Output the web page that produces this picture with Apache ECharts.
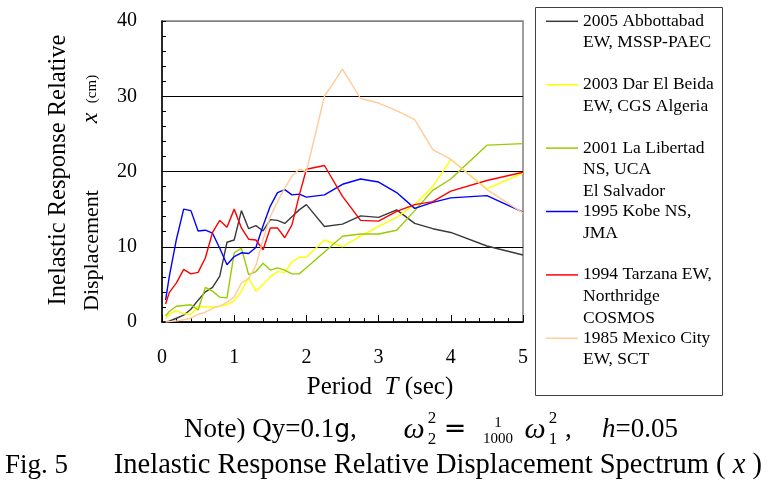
<!DOCTYPE html>
<html><head><meta charset="utf-8">
<script src="https://cdn.jsdelivr.net/npm/echarts@6/dist/echarts.min.js"></script>
<style>html,body{margin:0;padding:0;background:#fff}#c{width:774px;height:484px}</style>
</head><body><div id="c"></div>
<script>
// Period T (sec)
const periods = [0.05,0.1,0.2,0.3,0.4,0.5,0.6,0.7,0.8,0.9,1.0,1.1,1.2,1.3,1.4,1.5,1.6,1.7,1.8,1.9,2.0,2.25,2.5,2.75,3.0,3.25,3.5,3.75,4.0,4.5,5.0];
// Inelastic response relative displacement x (cm)
const abbottabad = [0,0.1,0.5,0.9,1.7,2.9,4.0,4.6,6.1,10.6,10.9,14.8,12.4,12.8,12.1,13.6,13.5,13.1,14.0,14.9,15.6,12.7,13.0,14.1,13.9,14.9,13.1,12.4,11.9,10.1,8.9];
const darElBeida = [0.5,1.0,1.5,1.1,1.0,2.1,2.0,2.0,2.1,2.3,2.8,4.1,5.9,4.1,5.0,6.0,6.7,6.6,8.0,8.6,8.6,10.9,10.0,11.4,12.7,13.9,15.6,18.0,21.6,17.7,19.8];
const laLibertad = [0.8,1.4,2.1,2.2,2.3,1.6,4.6,4.1,3.3,3.2,9.2,9.8,6.3,6.7,7.8,6.9,7.2,6.9,6.4,6.4,7.2,9.3,11.4,11.7,11.7,12.2,14.8,17.5,19.0,23.5,23.7];
const kobe = [2.9,6.0,11.0,15.0,14.8,12.1,12.2,11.8,9.8,7.6,8.7,9.2,9.1,9.9,12.8,15.4,17.2,17.6,16.9,17.0,16.6,16.9,18.3,19.0,18.6,17.2,15.1,15.9,16.5,16.8,14.6];
const tarzana = [2.4,3.9,5.2,7.0,6.4,6.6,8.5,11.9,13.5,12.6,15.0,12.5,11.0,10.9,9.6,12.5,12.5,11.2,12.9,16.8,20.3,20.8,16.7,13.5,13.4,14.7,15.6,16.0,17.4,18.8,19.9];
const mexicoCity = [0,0.05,0.15,0.3,0.5,1.0,1.3,1.8,2.1,2.6,3.3,5.2,5.8,7.5,11.0,14.0,16.0,17.8,19.4,20.3,20.0,30.0,33.6,29.7,29.1,28.1,26.9,22.9,21.6,17.6,14.5];

const legendLines = [
  ['2005 Abbottabad','EW, MSSP-PAEC'],
  ['2003 Dar El Beida','EW, CGS Algeria'],
  ['2001 La Libertad','NS, UCA','El Salvador'],
  ['1995 Kobe NS,','JMA'],
  ['1994 Tarzana EW,','Northridge','COSMOS'],
  ['1985 Mexico City','EW, SCT']
];
const seriesValues = [abbottabad, darElBeida, laLibertad, kobe, tarzana, mexicoCity];
const seriesColors = ['#3a3a3a','#ffff00','#99cc00','#0000ff','#ff0000','#ffcc99'];
const xTicks = [0,1,2,3,4,5];
const yTicks = [0,10,20,30,40];

const SERIF = '"Liberation Serif","Times New Roman",serif';
const names = legendLines.map(l => l.join(' '));

const series = names.map((n,i)=>({
  type:'line', name:n, symbol:'none', silent:true,
  data: periods.map((t,j)=>[t, seriesValues[i][j]]),
  lineStyle:{color:seriesColors[i], width:1.4},
  itemStyle:{color:seriesColors[i]}
}));

// legend layout
const legTop0 = 21.3, legPitch = 63.4, legLine = 21.6, legTextX = 583;
const graphics = [];
graphics.push({type:'rect', shape:{x:535.5,y:7.5,width:187,height:388}, style:{fill:'none',stroke:'#404040',lineWidth:1}});
legendLines.forEach((lines,i)=>{
  lines.slice(1).forEach((ln,k)=>{
    graphics.push({type:'text', x:legTextX, y:legTop0+i*legPitch+(k+1)*legLine,
      style:{text:ln, font:'17.5px '+SERIF, fill:'#000', align:'left', verticalAlign:'middle'}});
  });
});
// y axis title
graphics.push({type:'text', x:59, y:170, rotation:Math.PI/2,
  style:{text:'Inelastic Response Relative', font:'24.5px '+SERIF, fill:'#000', align:'center', verticalAlign:'middle'}});
graphics.push({type:'text', x:92, y:311, rotation:Math.PI/2,
  style:{text:'Displacement', font:'22px '+SERIF, fill:'#000', align:'left', verticalAlign:'middle'}});
graphics.push({type:'text', x:91, y:118, rotation:Math.PI/2,
  style:{text:'x', font:'italic 24px '+SERIF, fill:'#000', align:'center', verticalAlign:'middle'}});
graphics.push({type:'text', x:92, y:89, rotation:Math.PI/2,
  style:{text:'(cm)', font:'15px '+SERIF, fill:'#000', align:'center', verticalAlign:'middle'}});
// x axis title
graphics.push({type:'text', x:380, y:387,
  style:{text:'{n|Period  }{i|T}{n| (sec)}', align:'center', verticalAlign:'middle',
    rich:{n:{font:'25px '+SERIF, fill:'#000'}, i:{font:'italic 25px '+SERIF, fill:'#000'}}}});
// note line
const noteY = 430;
graphics.push({type:'text', x:184, y:noteY,
  style:{text:'{n|Note) Qy=0.1}{g|g}{n|,}', align:'left', verticalAlign:'middle',
    rich:{n:{font:'27px '+SERIF, fill:'#000'}, g:{font:'25px "DejaVu Sans",sans-serif', fill:'#000'}}}});
graphics.push({type:'text', x:414, y:noteY, style:{text:'ω', font:'italic 30px '+SERIF, fill:'#000', align:'center', verticalAlign:'middle'}});
graphics.push({type:'text', x:432, y:noteY-11, style:{text:'2', font:'17px '+SERIF, fill:'#000', align:'center', verticalAlign:'middle'}});
graphics.push({type:'text', x:432, y:noteY+10, style:{text:'2', font:'17px '+SERIF, fill:'#000', align:'center', verticalAlign:'middle'}});
graphics.push({type:'text', x:455, y:noteY, style:{text:'=', font:'27px "DejaVu Sans",sans-serif', fill:'#000', align:'center', verticalAlign:'middle'}});
graphics.push({type:'text', x:498, y:noteY-7, style:{text:'1', font:'15px '+SERIF, fill:'#000', align:'center', verticalAlign:'middle'}});
graphics.push({type:'text', x:498, y:noteY+9, style:{text:'1000', font:'15px '+SERIF, fill:'#000', align:'center', verticalAlign:'middle'}});
graphics.push({type:'text', x:535, y:noteY, style:{text:'ω', font:'italic 30px '+SERIF, fill:'#000', align:'center', verticalAlign:'middle'}});
graphics.push({type:'text', x:553, y:noteY-11, style:{text:'2', font:'17px '+SERIF, fill:'#000', align:'center', verticalAlign:'middle'}});
graphics.push({type:'text', x:553, y:noteY+10, style:{text:'1', font:'17px '+SERIF, fill:'#000', align:'center', verticalAlign:'middle'}});
graphics.push({type:'text', x:565, y:noteY, style:{text:',', font:'27px '+SERIF, fill:'#000', align:'left', verticalAlign:'middle'}});
graphics.push({type:'text', x:602, y:noteY,
  style:{text:'{i|h}{n|=0.05}', align:'left', verticalAlign:'middle',
    rich:{n:{font:'27px '+SERIF, fill:'#000'}, i:{font:'italic 27px '+SERIF, fill:'#000'}}}});
// caption
graphics.push({type:'text', x:5, y:466, style:{text:'Fig. 5', font:'27px '+SERIF, fill:'#000', align:'left', verticalAlign:'middle'}});
graphics.push({type:'text', x:762, y:466,
  style:{text:'{n|Inelastic Response Relative Displacement Spectrum ( }{i|x}{n| )}', align:'right', verticalAlign:'middle',
    rich:{n:{font:'28.5px '+SERIF, fill:'#000'}, i:{font:'italic 28.5px '+SERIF, fill:'#000'}}}});

const chart = echarts.init(document.getElementById('c'), null, {renderer:'canvas'});
chart.setOption({
  animation:false,
  backgroundColor:'#fff',
  grid:{left:162, right:251, top:21, bottom:162, show:true, borderColor:'#808080', borderWidth:1.5, backgroundColor:'transparent'},
  xAxis:{type:'value', min:xTicks[0], max:xTicks[xTicks.length-1], interval:1,
    axisLine:{onZero:false, lineStyle:{color:'#000', width:1.5}},
    axisTick:{inside:true, length:7, lineStyle:{color:'#000', width:1}},
    minorTick:{show:true, splitNumber:5, length:4, lineStyle:{color:'#000', width:1}},
    axisLabel:{margin:26, color:'#000', fontFamily:SERIF, fontSize:20},
    splitLine:{show:false}},
  yAxis:{type:'value', min:yTicks[0], max:yTicks[yTicks.length-1], interval:10,
    axisLine:{show:true, lineStyle:{color:'#000', width:1.5}},
    axisTick:{show:true, inside:true, length:4, lineStyle:{color:'#000', width:1}},
    minorTick:{show:true, splitNumber:5, length:4, lineStyle:{color:'#000', width:1}},
    axisLabel:{margin:25, color:'#000', fontFamily:SERIF, fontSize:20},
    splitLine:{show:true, lineStyle:{color:['#000','#000','#000','#000','#808080'], width:1.2}}},
  legend:{orient:'vertical', left:546, top:legTop0-legLine/2, padding:0, itemWidth:32, itemHeight:1.5,
    icon:'rect', itemGap:legPitch-legLine, selectedMode:false,
    textStyle:{fontFamily:SERIF, fontSize:17.5, color:'#000', lineHeight:legLine},
    formatter: n => legendLines[names.indexOf(n)][0],
    data:names},
  series: series,
  graphic: graphics
});
</script></body></html>
